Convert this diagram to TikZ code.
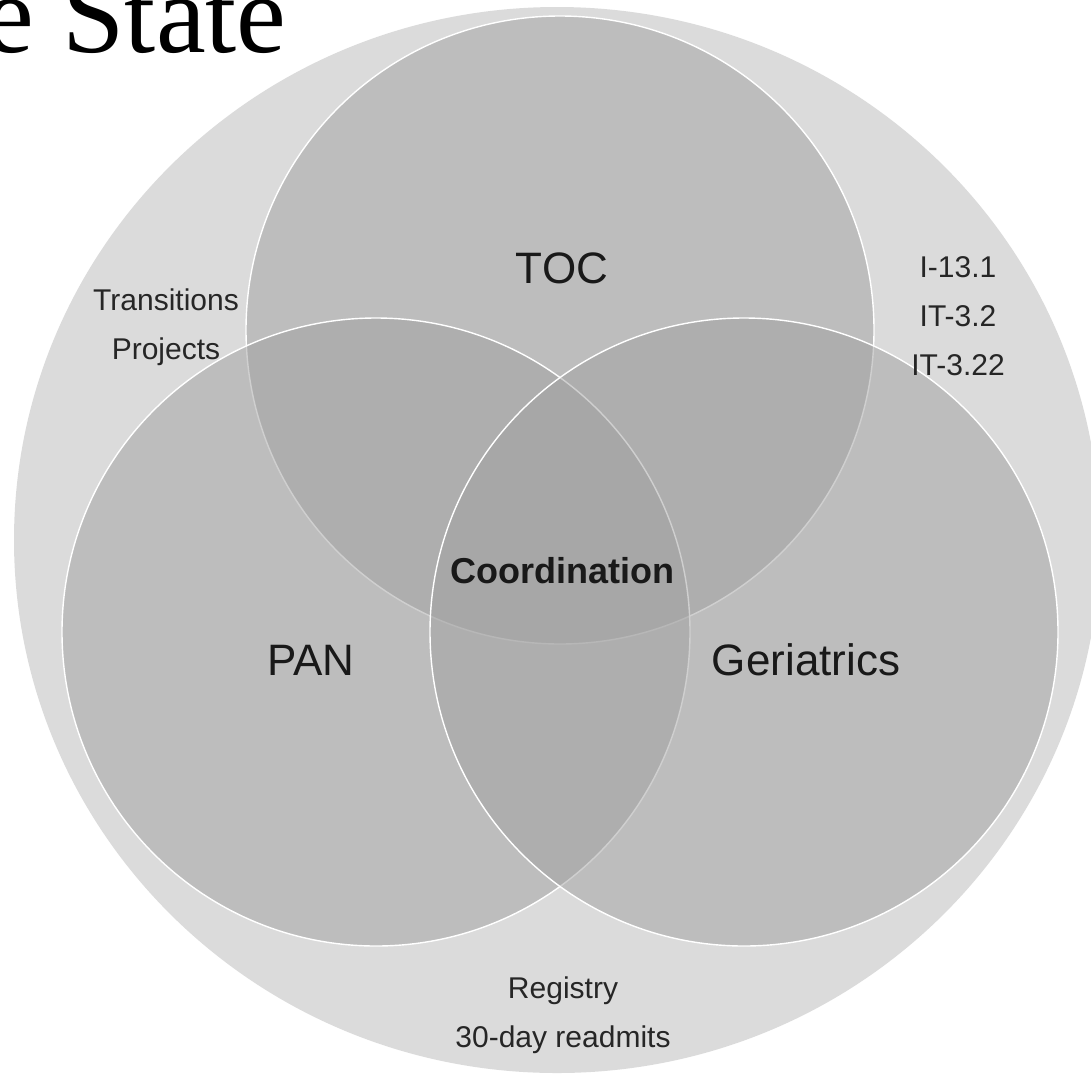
\documentclass[tikz,border=0pt]{standalone}
\usepackage{fontspec}
\setmainfont{Liberation Sans}
\newfontfamily\titlefont{Liberation Serif}

\begin{document}
\begin{tikzpicture}
[x=0.5pt,y=-0.5pt,
  setDecorate/.style={shape=circle,inner sep=0pt,minimum size=314pt,%
    fill=black!37,fill opacity=0.5,draw=white,line width=0.7pt},%
  bigLabel/.style={font=\fontsize{22}{26}\selectfont,text=black!90},%
  smallLabel/.style={font=\fontsize{15}{24.5}\selectfont,align=center,text=black!85}]
\useasboundingbox (0,0) rectangle (1091,1077);
\clip (0,0) rectangle (1091,1077);
%% title fragment
\node[anchor=base east,inner sep=0pt,font=\titlefont\fontsize{56}{60}\selectfont]
  (title) at (287,52) {e State};
%% outer set
\fill[black!14] (557,540) ellipse [x radius=543, y radius=533];
%% the three sets
\foreach \setname/\x/\y in {toc/560/330, pan/376/632, geri/744/632}
{
  \node (\setname) at (\x,\y) [setDecorate] {};
}
%% labels
\foreach \labname/\x/\y/\txt in {
  toclab/562/268/TOC, panlab/311/660/PAN, gerilab/806/660/Geriatrics}
{
  \node (\labname) at (\x,\y) [bigLabel] {\txt};
}
\node (coord) at (562,571) [bigLabel,font=\bfseries\fontsize{18}{22}\selectfont] {Coordination};
\node (trans) at (166,327) [smallLabel] {Transitions\\Projects};
\node (items) at (958,316) [smallLabel] {I-13.1\\IT-3.2\\IT-3.22};
\node (regis) at (563,1015) [smallLabel] {Registry\\30-day readmits};
\end{tikzpicture}
\end{document}
